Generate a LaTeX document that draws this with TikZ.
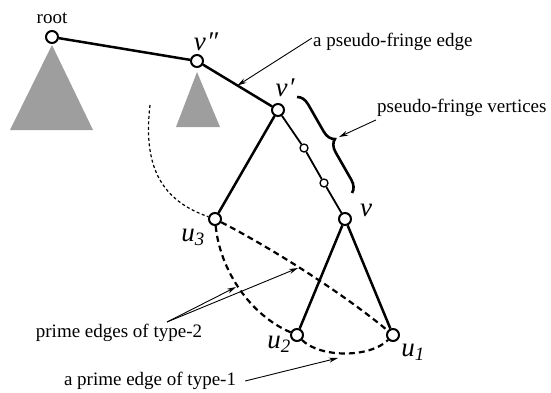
\documentclass[tikz,border=0pt]{standalone}
\usepackage{fontspec}
\setmainfont{Liberation Serif}
\newfontfamily\timesfont{Liberation Serif}
\usepackage{tikz}
\usetikzlibrary{shapes, arrows.meta, positioning, calc, decorations.pathreplacing}

\begin{document}
\begin{tikzpicture}[x=1pt, y=-1pt,
  vtx/.style={circle, draw, fill=white, line width=2pt, minimum size=12pt, inner sep=0pt},
  svtx/.style={circle, draw, fill=white, line width=1.3pt, minimum size=8pt, inner sep=0pt},
  lbl/.style={font=\timesfont\fontsize{19}{21}\selectfont, inner sep=1pt},
  mlbl/.style={font=\timesfont\fontsize{27}{29}\selectfont\itshape, inner sep=0pt},
  tedge/.style={line width=2.5pt},
  cedge/.style={line width=1.8pt},
  prime/.style={line width=2.2pt, dash pattern=on 6pt off 4pt},
  dotc/.style={line width=1.2pt, dash pattern=on 3pt off 2.5pt},
  subt/.style={fill=black!38, draw=none},
  arr/.style={-{Stealth[length=9pt, width=5pt]}, line width=0.9pt}
]
  \useasboundingbox (0,0) rectangle (551,392);

  % subtrees
  \fill[subt] (52,45) -- (93,130) -- (10,130) -- cycle;
  \fill[subt] (197,72) -- (220,127) -- (176,127) -- cycle;

  % vertices
  \node[vtx] (root) at (52,37) {};
  \node[vtx] (vpp) at (197,61) {};
  \node[vtx] (vp) at (278,110) {};
  \node[svtx] (s1) at (304,148) {};
  \node[svtx] (s2) at (324,183) {};
  \node[vtx] (v) at (345,219) {};
  \node[vtx] (u3) at (215,219) {};
  \node[vtx] (u2) at (297,335) {};
  \node[vtx] (u1) at (393,335) {};

  % tree edges
  \draw[tedge] (root) -- (vpp);
  \draw[tedge] (vpp) -- (vp);
  \draw[tedge] (vp) -- (u3);
  \draw[cedge] (vp) -- (s1) -- (s2) -- (v);
  \draw[tedge] (v) -- (u2);
  \draw[tedge] (v) -- (u1);

  % prime edges
  \draw[prime] (u3) .. controls (220,270) and (250,315) .. (u2);
  \draw[prime] (u3) .. controls (275,250) and (345,295) .. (u1);
  \draw[prime] (u2) .. controls (320,358) and (370,358) .. (u1);
  \draw[dotc] (150,105) .. controls (143,165) and (160,200) .. (u3);

  % vertex labels
  \node[lbl] (lroot) at (52,18) {root};
  \node[mlbl] (lvpp) at (206,42) {v\kern1pt″};
  \node[mlbl] (lvp) at (285,88) {v\kern1pt′};
  \node[mlbl] (lv) at (366,210) {v};
  \node[mlbl] (lu3) at (193,237) {u\textsubscript{3}};
  \node[mlbl] (lu2) at (279,344) {u\textsubscript{2}};
  \node[mlbl] (lu1) at (413,352) {u\textsubscript{1}};

  % brace over pseudo-fringe vertices
  \draw[line width=2.6pt, decorate, decoration={brace, amplitude=12pt}] (297,97) -- (352,193);
  \coordinate (bt) at (339,137);

  % annotations
  \node[lbl, anchor=west] (lpe) at (312,42) {a pseudo-fringe edge};
  \coordinate (pe) at ($(vpp)!0.5!(vp)$);
  \draw[arr] ([yshift=4pt]lpe.west) -- (pe);

  \node[lbl, anchor=west] (lpf) at (376,108) {pseudo-fringe vertices};
  \draw[arr] ([yshift=-2pt]lpf.south west) -- (bt);

  \node[lbl] (lt2) at (119,333) {prime edges of type-2};
  \coordinate (t2s) at (167,322);
  \coordinate (t2a) at (236,287);
  \coordinate (t2b) at (298,268);
  \draw[arr] (t2s) -- (t2a);
  \draw[arr] (t2s) -- (t2b);

  \node[lbl] (lt1) at (150,381) {a prime edge of type-1};
  \coordinate (t1) at (338,358);
  \draw[arr] ([xshift=8pt]lt1.east) -- (t1);
\end{tikzpicture}
\end{document}
